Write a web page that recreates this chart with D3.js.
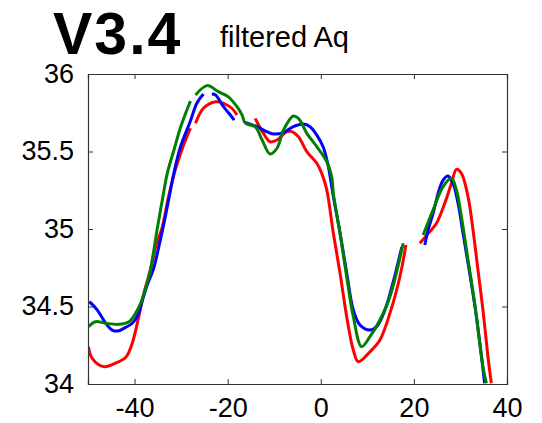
<!DOCTYPE html>
<html>
<head>
<meta charset="utf-8">
<script src="https://cdn.jsdelivr.net/npm/d3@7"></script>
<style>
  body { margin: 0; background: #fff; }
  svg { display: block; }
</style>
</head>
<body>
<div id="chart"></div>
<script>
// traced series, null = gap in the line
const blueX = [-49.7, -48.0, -46.2, -44.8, -43.6, -42.3, -40.5, -39.3, -38.3, -37.2, -35.9, -34.9, -33.8, -32.7, -31.6, -30.2, -28.0, -26.6, -25.2, null,
  -23.4, -22.6, -20.9, -19.6, -18.6, null,
  -16.4, -13.7, -11.6, -10.2, -8.1, -5.9, -3.8, -2.3, -0.86, 0.5, 1.56, 2.64, 4.14, 5.57, 6.99, 8.42, 10.56, 12.0, 13.78, 15.5, 17.4, null,
  22.35, 23.06, 24.13, 25.2, 26.27, 27.34, 28.41, 29.48, 30.56, 31.99, 33.43, 35.2];
const blueY = [34.531, 34.477, 34.392, 34.348, 34.342, 34.359, 34.392, 34.445, 34.542, 34.645, 34.745, 34.870, 35.020, 35.185, 35.355, 35.525, 35.697, 35.813, 35.871, null,
  35.871, 35.865, 35.789, 35.742, 35.703, null,
  35.690, 35.660, 35.628, 35.613, 35.621, 35.660, 35.677, 35.660, 35.606, 35.531, 35.413, 35.219, 34.974, 34.716, 34.477, 34.381, 34.348, 34.370, 34.477, 34.652, 34.884, null,
  34.897, 34.994, 35.101, 35.230, 35.316, 35.342, 35.295, 35.166, 34.972, 34.714, 34.434, 34.005];

const greenX = [-49.9, -48.4, -46.2, -43.4, -41.2, -39.8, -38.7, -37.6, -36.6, -35.1, -34.0, -32.9, -31.6, -30.1, -28.0, null,
  -26.9, -24.4, -22.0, -19.9, -18.0, -16.9, -16.2, -14.1, -12.6, -10.9, -9.4, -8.0, -5.9, -4.8, -3.0, -0.86, 1.29, 2.36, 2.7, 4.14, 5.57, 6.99, 8.78, 10.56, 12.7, 14.85, 17.7, null,
  22.0, 24.13, 26.27, 28.07, 29.14, 30.21, 31.63, 33.06, 34.84, 35.57];
const greenY = [34.370, 34.402, 34.392, 34.385, 34.402, 34.456, 34.521, 34.619, 34.735, 35.006, 35.194, 35.368, 35.503, 35.658, 35.826, null,
  35.865, 35.925, 35.886, 35.854, 35.789, 35.735, 35.682, 35.660, 35.574, 35.484, 35.521, 35.639, 35.729, 35.714, 35.617, 35.531, 35.434, 35.337, 35.230, 34.972, 34.692, 34.434, 34.241, 34.305, 34.413, 34.563, 34.908, null,
  34.961, 35.123, 35.273, 35.327, 35.252, 35.079, 34.800, 34.521, 34.112, 34.005];

const redX = [-49.9, -49.1, -46.6, -44.1, -41.9, -40.5, -39.1, -38.0, -36.6, -35.3, -34.1, -32.8, -31.2, -29.7, -28.0, null,
  -26.9, -25.2, -22.6, -20.9, -19.1, -18.0, null,
  -14.1, -12.3, -10.9, -9.4, -7.3, -6.2, -4.8, -3.0, -0.86, 0.21, 1.29, 2.7, 4.14, 5.57, 6.99, 8.06, 10.56, 12.7, 14.85, 16.99, 18.28, null,
  21.28, 23.42, 24.86, 26.63, 28.07, 29.14, 30.21, 31.63, 32.7, 33.77, 34.84, 35.91, 36.64];
const redY = [34.241, 34.166, 34.112, 34.134, 34.172, 34.263, 34.434, 34.585, 34.735, 34.903, 35.006, 35.194, 35.387, 35.523, 35.650, null,
  35.682, 35.779, 35.821, 35.811, 35.779, 35.735, null,
  35.714, 35.617, 35.563, 35.574, 35.628, 35.628, 35.595, 35.499, 35.424, 35.359, 35.252, 34.972, 34.714, 34.434, 34.219, 34.144, 34.208, 34.284, 34.456, 34.692, 34.897, null,
  34.908, 34.983, 35.037, 35.166, 35.295, 35.385, 35.359, 35.208, 34.994, 34.735, 34.477, 34.176, 34.005];

const xTicks = [-40, -20, 0, 20, 40];
const yTicks = [34, 34.5, 35, 35.5, 36];

const width = 542, height = 423;
const margin = { top: 74, right: 35, bottom: 39, left: 88 };

const svg = d3.select("#chart").append("svg")
  .attr("width", width)
  .attr("height", height);

const x = d3.scaleLinear().domain([-50, 40]).range([margin.left, width - margin.right]);
const y = d3.scaleLinear().domain([34, 36]).range([height - margin.bottom, margin.top]);

// title
svg.append("text")
  .attr("x", 53).attr("y", 54)
  .style("font-family", "Liberation Sans, Arial, sans-serif")
  .style("font-weight", "bold")
  .style("font-size", "59px")
  .style("letter-spacing", "2px")
  .text("V3.4");
svg.append("text")
  .attr("x", 220).attr("y", 47)
  .style("font-family", "Liberation Sans, Arial, sans-serif")
  .style("font-size", "29px")
  .text("filtered Aq");

const plot = svg.append("g");
plot.append("defs").append("clipPath").attr("id", "clip")
  .append("rect")
  .attr("x", x(-50)).attr("y", y(36))
  .attr("width", x(40) - x(-50)).attr("height", y(34) - y(36));

const series = [
  { xs: redX, ys: redY, color: "#ff0000" },
  { xs: blueX, ys: blueY, color: "#0000ff" },
  { xs: greenX, ys: greenY, color: "#008000" }
];

const line = d3.line()
  .defined(d => d[0] !== null)
  .x(d => x(d[0]))
  .y(d => y(d[1]))
  .curve(d3.curveCatmullRom);

const lines = plot.append("g").attr("clip-path", "url(#clip)");
series.forEach(s => {
  const pts = s.xs.map((v, i) => [v, s.ys[i]]);
  lines.append("path")
    .attr("d", line(pts))
    .attr("fill", "none")
    .attr("stroke", s.color)
    .attr("stroke-width", 3)
    .attr("stroke-linejoin", "round");
});

// box with inward ticks on all four sides
const tickLen = 5;
const axisColor = "#333";
const axisFont = "Liberation Sans, Arial, sans-serif";

const axBottom = plot.append("g").attr("transform", `translate(0,${y(34)})`)
  .call(d3.axisBottom(x).tickValues(xTicks).tickSize(-tickLen).tickPadding(14).tickFormat(d3.format("d")));
const axTop = plot.append("g").attr("transform", `translate(0,${y(36)})`)
  .call(d3.axisTop(x).tickValues(xTicks).tickSize(-tickLen).tickFormat(""));
const axLeft = plot.append("g").attr("transform", `translate(${x(-50)},0)`)
  .call(d3.axisLeft(y).tickValues(yTicks).tickSize(-tickLen).tickPadding(14).tickFormat(d => d));
const axRight = plot.append("g").attr("transform", `translate(${x(40)},0)`)
  .call(d3.axisRight(y).tickValues(yTicks).tickSize(-tickLen).tickFormat(""));

[axBottom, axTop, axLeft, axRight].forEach(a => {
  a.select(".domain").attr("stroke", axisColor).attr("stroke-width", 1.2);
  a.selectAll(".tick line").attr("stroke", axisColor);
  a.selectAll("text")
    .style("font-family", axisFont)
    .style("font-size", "27px")
    .attr("fill", "#000");
});
axBottom.selectAll("text").text(d => d < 0 ? "-" + Math.abs(d) : d);
axLeft.selectAll("text").attr("dy", "0.3em");
</script>
</body>
</html>
